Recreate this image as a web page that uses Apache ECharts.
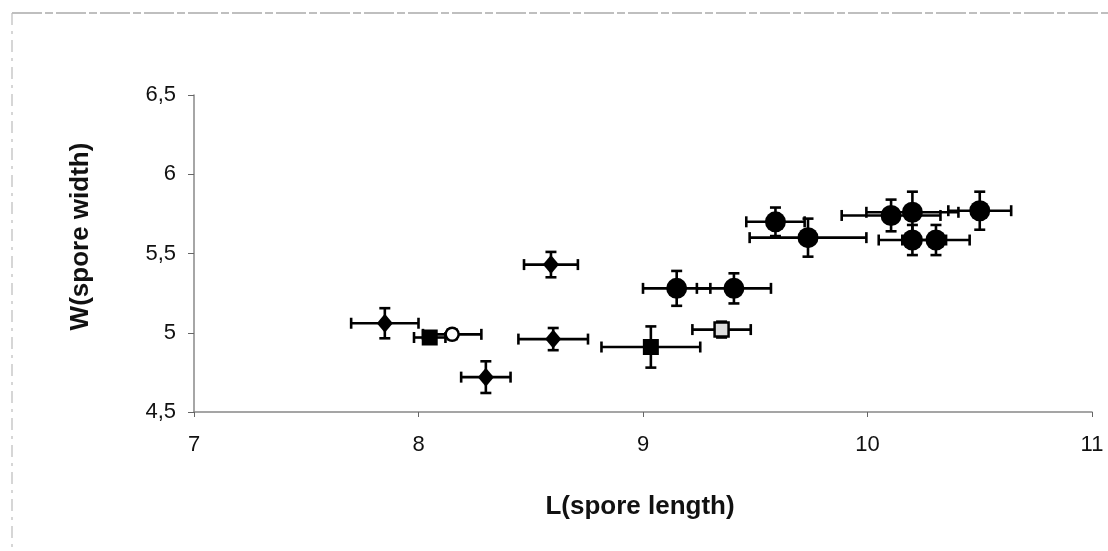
<!DOCTYPE html>
<html>
<head>
<meta charset="utf-8">
<script src="https://cdn.jsdelivr.net/npm/echarts@6/dist/echarts.min.js"></script>
<style>html,body{margin:0;padding:0;background:#fff;}#c{width:1108px;height:551px;}</style>
</head>
<body>
<div id="c"></div>
<script>
// ---- data (L = spore length, W = spore width, Err = half error bar) ----
const xTicks = [7, 8, 9, 10, 11];
const yTicks = [4.5, 5, 5.5, 6, 6.5];

const diamondL    = [7.85, 8.30, 8.59, 8.60];
const diamondW    = [5.06, 4.72, 5.43, 4.96];
const diamondLErr = [0.15, 0.11, 0.12, 0.155];
const diamondWErr = [0.095, 0.10, 0.08, 0.07];

const squareL    = [8.05, 9.035];
const squareW    = [4.97, 4.91];
const squareLErr = [0.07, 0.22];
const squareWErr = [0.03, 0.13];

const openSquareL    = [9.35];
const openSquareW    = [5.02];
const openSquareLErr = [0.13];
const openSquareWErr = [0.05];

const openCircleL    = [8.15];
const openCircleW    = [4.99];
const openCircleLErr = [0.13];
const openCircleWErr = [0.03];

const circleL    = [9.15, 9.405, 9.59, 9.735, 10.105, 10.20, 10.50, 10.20, 10.305];
const circleW    = [5.28, 5.28, 5.70, 5.60, 5.74, 5.76, 5.77, 5.585, 5.585];
const circleLErr = [0.15, 0.165, 0.13, 0.26, 0.22, 0.205, 0.14, 0.15, 0.15];
const circleWErr = [0.11, 0.095, 0.09, 0.12, 0.10, 0.13, 0.12, 0.095, 0.095];

const strayL = [7.2];
const strayW = [6.52];

// ---- build ----
function rows(L, W, LE, WE) { return L.map((v, i) => [v, W[i], LE[i], WE[i]]); }
const groups = [
  {d: rows(diamondL, diamondW, diamondLErr, diamondWErr), symbol: 'diamond', size: [16, 19], fill: '#000'},
  {d: rows(squareL, squareW, squareLErr, squareWErr), symbol: 'rect', size: 16, fill: '#000'},
  {d: rows(openSquareL, openSquareW, openSquareLErr, openSquareWErr), symbol: 'rect', size: 14, fill: '#ddd'},
  {d: rows(openCircleL, openCircleW, openCircleLErr, openCircleWErr), symbol: 'circle', size: 13, fill: '#fff'},
  {d: rows(circleL, circleW, circleLErr, circleWErr), symbol: 'circle', size: 21, fill: '#000'}
];

function errRender(params, api) {
  const x = api.value(0), y = api.value(1), ex = api.value(2), ey = api.value(3);
  const c = api.coord([x, y]);
  const l = api.coord([x - ex, y]), r = api.coord([x + ex, y]);
  const t = api.coord([x, y + ey]), b = api.coord([x, y - ey]);
  const cap = 5.5;
  const st = {stroke: '#000', lineWidth: 2.6};
  const line = (x1, y1, x2, y2) => ({type: 'line', shape: {x1, y1, x2, y2}, style: st});
  return {type: 'group', children: [
    line(l[0], c[1], r[0], c[1]),
    line(l[0], c[1] - cap, l[0], c[1] + cap),
    line(r[0], c[1] - cap, r[0], c[1] + cap),
    line(c[0], t[1], c[0], b[1]),
    line(c[0] - cap, t[1], c[0] + cap, t[1]),
    line(c[0] - cap, b[1], c[0] + cap, b[1])
  ]};
}

const series = [];
groups.forEach(g => {
  series.push({type: 'custom', renderItem: errRender, data: g.d, encode: {x: 0, y: 1}, z: 2, silent: true});
});
groups.forEach(g => {
  series.push({type: 'scatter', data: g.d.map(r => [r[0], r[1]]), symbol: g.symbol, symbolSize: g.size,
    itemStyle: {color: g.fill, borderColor: '#000', borderWidth: g.fill === '#000' ? 0 : 2.5, opacity: 1}, z: 3});
});
series.push({type: 'scatter', data: strayL.map((v, i) => [v, strayW[i]]), symbol: 'diamond', symbolSize: [8, 4],
  itemStyle: {color: '#222'}, z: 3});

const fmt = v => String(v).replace('.', ',');
const chart = echarts.init(document.getElementById('c'), null, {renderer: 'canvas'});
chart.setOption({
  animation: false,
  backgroundColor: '#fff',
  graphic: [
    {type: 'line', shape: {x1: 12, y1: 13, x2: 1108, y2: 13}, style: {stroke: '#aaa', lineWidth: 1.5, lineDash: [30, 3, 8, 3]}},
    {type: 'line', shape: {x1: 12, y1: 13, x2: 12, y2: 551}, style: {stroke: '#bbb', lineWidth: 1.2, lineDash: [12, 6, 3, 6]}}
  ],
  grid: {left: 194, right: 16, top: 95, bottom: 139, containLabel: false},
  xAxis: {
    type: 'value', min: xTicks[0], max: xTicks[xTicks.length - 1], interval: 1,
    name: 'L(spore length)', nameLocation: 'middle', nameGap: 82,
    nameTextStyle: {fontFamily: 'Liberation Sans', fontWeight: 'bold', fontSize: 26, color: '#111', padding: [0, 6, 0, 0]},
    axisLine: {lineStyle: {color: '#888', width: 1.5}},
    axisTick: {show: true, length: 5, inside: false, lineStyle: {color: '#666'}},
    splitLine: {show: false},
    axisLabel: {fontFamily: 'Liberation Sans', fontSize: 22, color: '#111', margin: 22, formatter: fmt}
  },
  yAxis: {
    type: 'value', min: yTicks[0], max: yTicks[yTicks.length - 1], interval: 0.5,
    name: 'W(spore width)', nameLocation: 'middle', nameGap: 100,
    nameTextStyle: {fontFamily: 'Liberation Sans', fontWeight: 'bold', fontSize: 26, color: '#111', padding: [0, 0, 0, 34]},
    axisLine: {show: true, lineStyle: {color: '#888', width: 1.5}},
    axisTick: {show: true, length: 6, lineStyle: {color: '#666'}},
    splitLine: {show: false},
    axisLabel: {fontFamily: 'Liberation Sans', fontSize: 22, color: '#111', margin: 18, formatter: fmt}
  },
  series: series
});
</script>
</body>
</html>
